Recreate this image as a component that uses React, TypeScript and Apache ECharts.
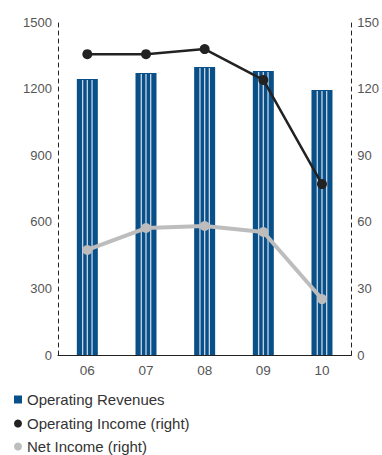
import React, { useEffect, useRef } from "react";
import * as echarts from "echarts";

const categories = ["06", "07", "08", "09", "10"];
const operatingRevenues = [1243, 1270, 1297, 1279, 1194];
const operatingIncome = [135.5, 135.5, 137.8, 123.9, 77];
const netIncome = [47.3, 57.2, 58.1, 55.4, 25.2];

const BAR_COLOR = "#0a5088";
const STRIPE_COLOR = "#c6d6e6";

export default function App() {
  const ref = useRef<HTMLDivElement>(null);
  useEffect(() => {
    if (!ref.current) return;
    const chart = echarts.init(ref.current, null, { renderer: "svg" });
    const font = "Liberation Sans, Arial, Helvetica, sans-serif";
    const legendBase = {
      orient: "vertical",
      left: 14,
      padding: 0,
      itemWidth: 8,
      itemHeight: 8,
      itemGap: 5,
      textStyle: { fontSize: 15, color: "#333", fontFamily: font },
    };
    chart.setOption({
      animation: false,
      textStyle: { fontFamily: font },
      grid: { left: 58, right: 28, top: 22, bottom: 100, containLabel: false },
      legend: [
        {
          ...legendBase,
          top: 392,
          data: [{ name: "Operating Revenues", icon: "rect", itemStyle: { color: BAR_COLOR } }],
        },
        {
          ...legendBase,
          top: 416,
          data: [{ name: "Operating Income (right)", icon: "circle", itemStyle: { color: "#222" } }],
        },
        {
          ...legendBase,
          top: 439,
          data: [{ name: "Net Income (right)", icon: "circle", itemStyle: { color: "#bdbdbd" } }],
        },
      ],
      xAxis: {
        type: "category",
        data: categories,
        boundaryGap: true,
        axisLine: { lineStyle: { color: "#222", width: 1.2 } },
        axisTick: { show: false },
        axisLabel: { color: "#555", fontSize: 13.5, margin: 8 },
      },
      yAxis: [
        {
          type: "value",
          min: 0,
          max: 1500,
          interval: 300,
          axisLine: { show: true, lineStyle: { color: "#222", type: [4, 4], width: 1 } },
          axisTick: { show: false },
          splitLine: { show: false },
          axisLabel: { color: "#555", fontSize: 13, margin: 6, formatter: (v: number) => String(v) },
        },
        {
          type: "value",
          min: 0,
          max: 150,
          interval: 30,
          position: "right",
          axisLine: { show: true, lineStyle: { color: "#222", type: [4, 4], width: 1 } },
          axisTick: { show: false },
          splitLine: { show: false },
          axisLabel: { color: "#555", fontSize: 13, margin: 6, formatter: (v: number) => String(v) },
        },
      ],
      series: [
        {
          name: "Operating Revenues",
          type: "custom",
          yAxisIndex: 0,
          itemStyle: { color: BAR_COLOR },
          encode: { x: 0, y: 1 },
          data: operatingRevenues.map((v, i) => [i, v]),
          renderItem: (params: any, api: any) => {
            const idx = api.value(0);
            const v = api.value(1);
            const top = api.coord([idx, v]);
            const base = api.coord([idx, 0]);
            const w = 21;
            const cx = top[0];
            const children: any[] = [
              {
                type: "rect",
                shape: { x: cx - w / 2, y: top[1], width: w, height: base[1] - top[1] },
                style: { fill: BAR_COLOR },
              },
            ];
            [-4.7, 0, 4.7].forEach((o) => {
              children.push({
                type: "line",
                shape: { x1: cx + o, y1: top[1] + 1, x2: cx + o, y2: base[1] },
                style: { stroke: STRIPE_COLOR, lineWidth: 1.3 },
              });
            });
            return { type: "group", children };
          },
          z: 1,
        },
        {
          name: "Net Income (right)",
          type: "line",
          yAxisIndex: 1,
          data: netIncome,
          symbol: "circle",
          symbolSize: 10,
          lineStyle: { color: "#bdbdbd", width: 4 },
          itemStyle: { color: "#bdbdbd" },
          z: 3,
        },
        {
          name: "Operating Income (right)",
          type: "line",
          yAxisIndex: 1,
          data: operatingIncome,
          symbol: "circle",
          symbolSize: 10,
          lineStyle: { color: "#222", width: 2.5 },
          itemStyle: { color: "#222" },
          z: 4,
        },
      ],
    });
    return () => chart.dispose();
  }, []);
  return (
    <div
      ref={ref}
      style={{ position: "fixed", left: 0, top: 0, width: 382, height: 455, background: "#fff" }}
    />
  );
}
